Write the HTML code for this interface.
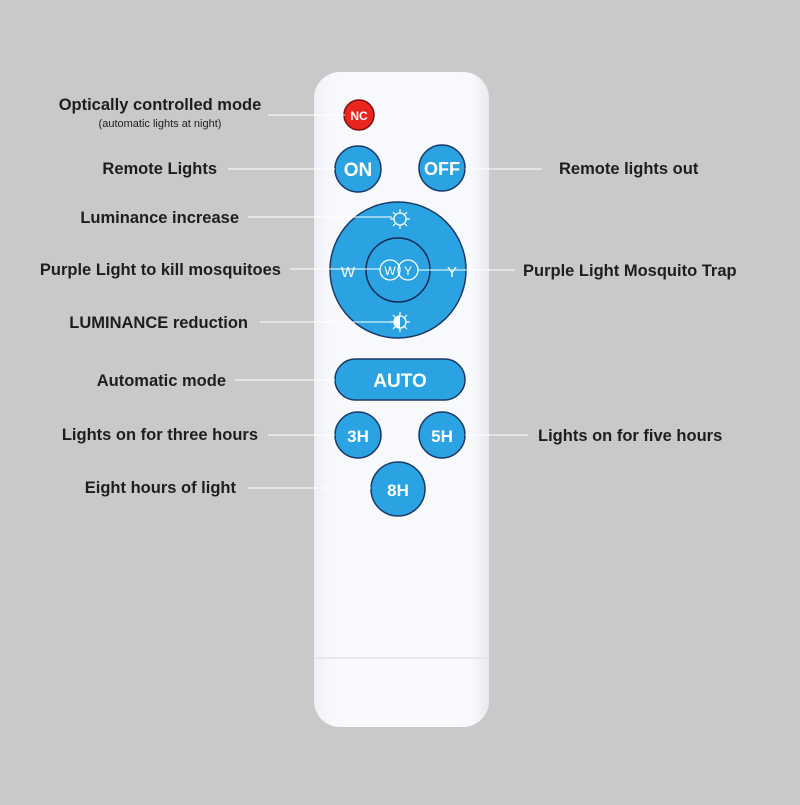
<!DOCTYPE html>
<html><head><style>
body{margin:0;width:800px;height:800px;background:#c9c9c9;overflow:hidden;font-family:"Liberation Sans",sans-serif}
</style></head><body>
<svg width="800" height="800" viewBox="0 0 800 800">
<defs>
<linearGradient id="rg" x1="0" x2="1"><stop offset="0" stop-color="#eef0f6"/><stop offset="0.1" stop-color="#f8f9fc"/><stop offset="0.9" stop-color="#f8f9fc"/><stop offset="1" stop-color="#e8eaf0"/></linearGradient>
</defs>
<rect x="314" y="72" width="175" height="655" rx="26" fill="url(#rg)"/>
<line x1="316" y1="658" x2="487" y2="658" stroke="#e2e4ea" stroke-width="1.5"/>
<g stroke="#1a3a6a" stroke-width="1.5" fill="#2ba3e2">
<circle cx="359" cy="115" r="15" fill="#e8261e" stroke="#7a1010"/>
<circle cx="358" cy="169" r="23"/>
<circle cx="442" cy="168" r="23"/>
<circle cx="398" cy="270" r="68"/>
<circle cx="398" cy="270" r="32" stroke="#102a50"/>
<rect x="335" y="359" width="130" height="41" rx="20.5"/>
<circle cx="358" cy="435" r="23"/>
<circle cx="442" cy="435" r="23"/>
<circle cx="398" cy="489" r="27"/>
</g>
<g fill="#fff" font-weight="bold" text-anchor="middle">
<text x="359" y="120" font-size="12">NC</text>
<text x="358" y="176" font-size="19">ON</text>
<text x="442" y="175" font-size="18">OFF</text>
<text x="400" y="387" font-size="19">AUTO</text>
<text x="358" y="442" font-size="17">3H</text>
<text x="442" y="442" font-size="17">5H</text>
<text x="398" y="496" font-size="17">8H</text>
<text x="348" y="277" font-size="15" font-weight="normal">W</text>
<text x="452" y="277" font-size="15" font-weight="normal">Y</text>
</g>
<g fill="none" stroke="#fff" stroke-width="1.3">
<circle cx="390" cy="270" r="10"/><circle cx="408" cy="270" r="10"/>
<circle cx="400" cy="219" r="6"/><circle cx="400" cy="322" r="6"/>
</g>
<g fill="#fff" font-size="12" text-anchor="middle"><text x="390" y="275">W</text><text x="408" y="275">Y</text></g>
<path d="M400 316 a6 6 0 0 0 0 12z" fill="#fff"/>
<g stroke="#fff" stroke-width="1.2">
<path d="M400 209v4M400 225v4M390 219h4M406 219h4M393 212l3 3M404 223l3 3M407 212l-3 3M396 223l-3 3"/>
<path d="M400 312v4M400 328v4M390 322h4M406 322h4M393 315l3 3M404 326l3 3M407 315l-3 3M396 326l-3 3"/>
</g>
<g stroke="#fff" stroke-width="1">
<line x1="268" y1="115" x2="345" y2="115"/>
<line x1="228" y1="169" x2="335" y2="169"/>
<line x1="465" y1="169" x2="542" y2="169"/>
<line x1="248" y1="217" x2="392" y2="217"/>
<line x1="290" y1="269" x2="380" y2="269"/>
<line x1="418" y1="270" x2="515" y2="270"/>
<line x1="260" y1="322" x2="392" y2="322"/>
<line x1="235" y1="380" x2="335" y2="380"/>
<line x1="268" y1="435" x2="335" y2="435"/>
<line x1="465" y1="435" x2="528" y2="435"/>
<line x1="248" y1="488" x2="371" y2="488"/>
</g>
<g fill="#1e1e1e" font-weight="bold" font-size="16.5">
<text x="160" y="110" text-anchor="middle">Optically controlled mode</text>
<text x="160" y="127" text-anchor="middle" font-size="11" font-weight="normal">(automatic lights at night)</text>
<text x="217" y="174" text-anchor="end">Remote Lights</text>
<text x="559" y="174">Remote lights out</text>
<text x="239" y="223" text-anchor="end">Luminance increase</text>
<text x="281" y="275" text-anchor="end">Purple Light to kill mosquitoes</text>
<text x="523" y="276">Purple Light Mosquito Trap</text>
<text x="248" y="328" text-anchor="end">LUMINANCE reduction</text>
<text x="226" y="386" text-anchor="end">Automatic mode</text>
<text x="258" y="440" text-anchor="end">Lights on for three hours</text>
<text x="538" y="441">Lights on for five hours</text>
<text x="236" y="493" text-anchor="end">Eight hours of light</text>
</g>
</svg>
</body></html>
